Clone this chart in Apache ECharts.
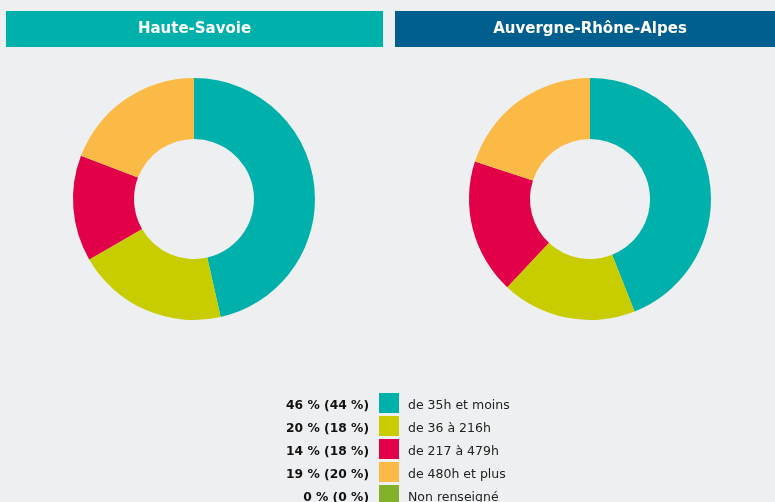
<!DOCTYPE html>
<html>
<head>
<meta charset="utf-8">
<script src="https://cdn.jsdelivr.net/npm/echarts@6/dist/echarts.min.js"></script>
<style>
	html,body{margin:0;padding:0;background:#eeeff1;}
	#charts{width:775px;height:502px;}
</style>
</head>
<body>
<div id="charts"></div>
<script>
// tranches horaires
var categories = ['de 35h et moins','de 36 à 216h','de 217 à 479h','de 480h et plus','Non renseigné'];
var hauteSavoie = [46,20,14,19,0];
var auvergne = [44,18,18,20,0];
var titles = ['Haute-Savoie','Auvergne-Rhône-Alpes'];
var colors = ['#00b0aa','#c8cd00','#e20048','#fbb945','#85b02a'];

function pieData(values){
	var arr = [];
	for(var i=0;i<categories.length;i++){
		arr.push({name:categories[i], value:values[i]});
	}
	return arr;
}

var charts = echarts.init(document.getElementById('charts'));
var option = {
	backgroundColor:'#eeeff1',
	color:colors,
	animation:false,
	graphic:[{
		type:'rect', shape:{x:6,y:11,width:377,height:36}, style:{fill:'#00b0aa'}
	},{
		type:'text', x:194.5, y:29, style:{text:titles[0], fill:'#fff', font:'bold 15px "DejaVu Sans"', align:'center', verticalAlign:'middle'}
	},{
		type:'rect', shape:{x:395,y:11,width:380,height:36}, style:{fill:'#005f8f'}
	},{
		type:'text', x:590, y:29, style:{text:titles[1], fill:'#fff', font:'bold 15px "DejaVu Sans"', align:'center', verticalAlign:'middle'}
	}],
	legend:[{
		// icones + libelles
		orient:'vertical',
		left:379,
		top:393,
		height:140,
		padding:0,
		icon:'rect',
		itemWidth:20,
		itemHeight:20,
		itemGap:3,
		selectedMode:false,
		data:categories,
		formatter:function(name){
			return '{a|'+name+'}';
		},
		textStyle:{
			rich:{a:{fontFamily:'DejaVu Sans', fontSize:12.5, color:'#222', padding:[5,0,0,4]}}
		}
	},{
		// pourcentages a gauche
		orient:'vertical',
		align:'right',
		right:376,
		top:393,
		height:140,
		padding:0,
		icon:'rect',
		itemWidth:20,
		itemHeight:20,
		itemGap:3,
		selectedMode:false,
		itemStyle:{opacity:0},
		data:categories,
		formatter:function(name){
			var i = categories.indexOf(name);
			return '{b|'+hauteSavoie[i]+' % ('+auvergne[i]+' %)}';
		},
		textStyle:{
			rich:{b:{fontFamily:'DejaVu Sans', fontSize:12.3, fontWeight:'bold', color:'#111', padding:[5,5,0,0]}}
		}
	}],
	series:[{
		name:titles[0],
		type:'pie',
		center:[194,199],
		radius:[60,121],
		startAngle:90,
		clockwise:true,
		label:{show:false},
		labelLine:{show:false},
		emphasis:{disabled:true},
		data:pieData(hauteSavoie)
	},{
		name:titles[1],
		type:'pie',
		center:[590,199],
		radius:[60,121],
		startAngle:90,
		clockwise:true,
		label:{show:false},
		labelLine:{show:false},
		emphasis:{disabled:true},
		data:pieData(auvergne)
	}]
};
charts.setOption(option);
</script>
</body>
</html>
